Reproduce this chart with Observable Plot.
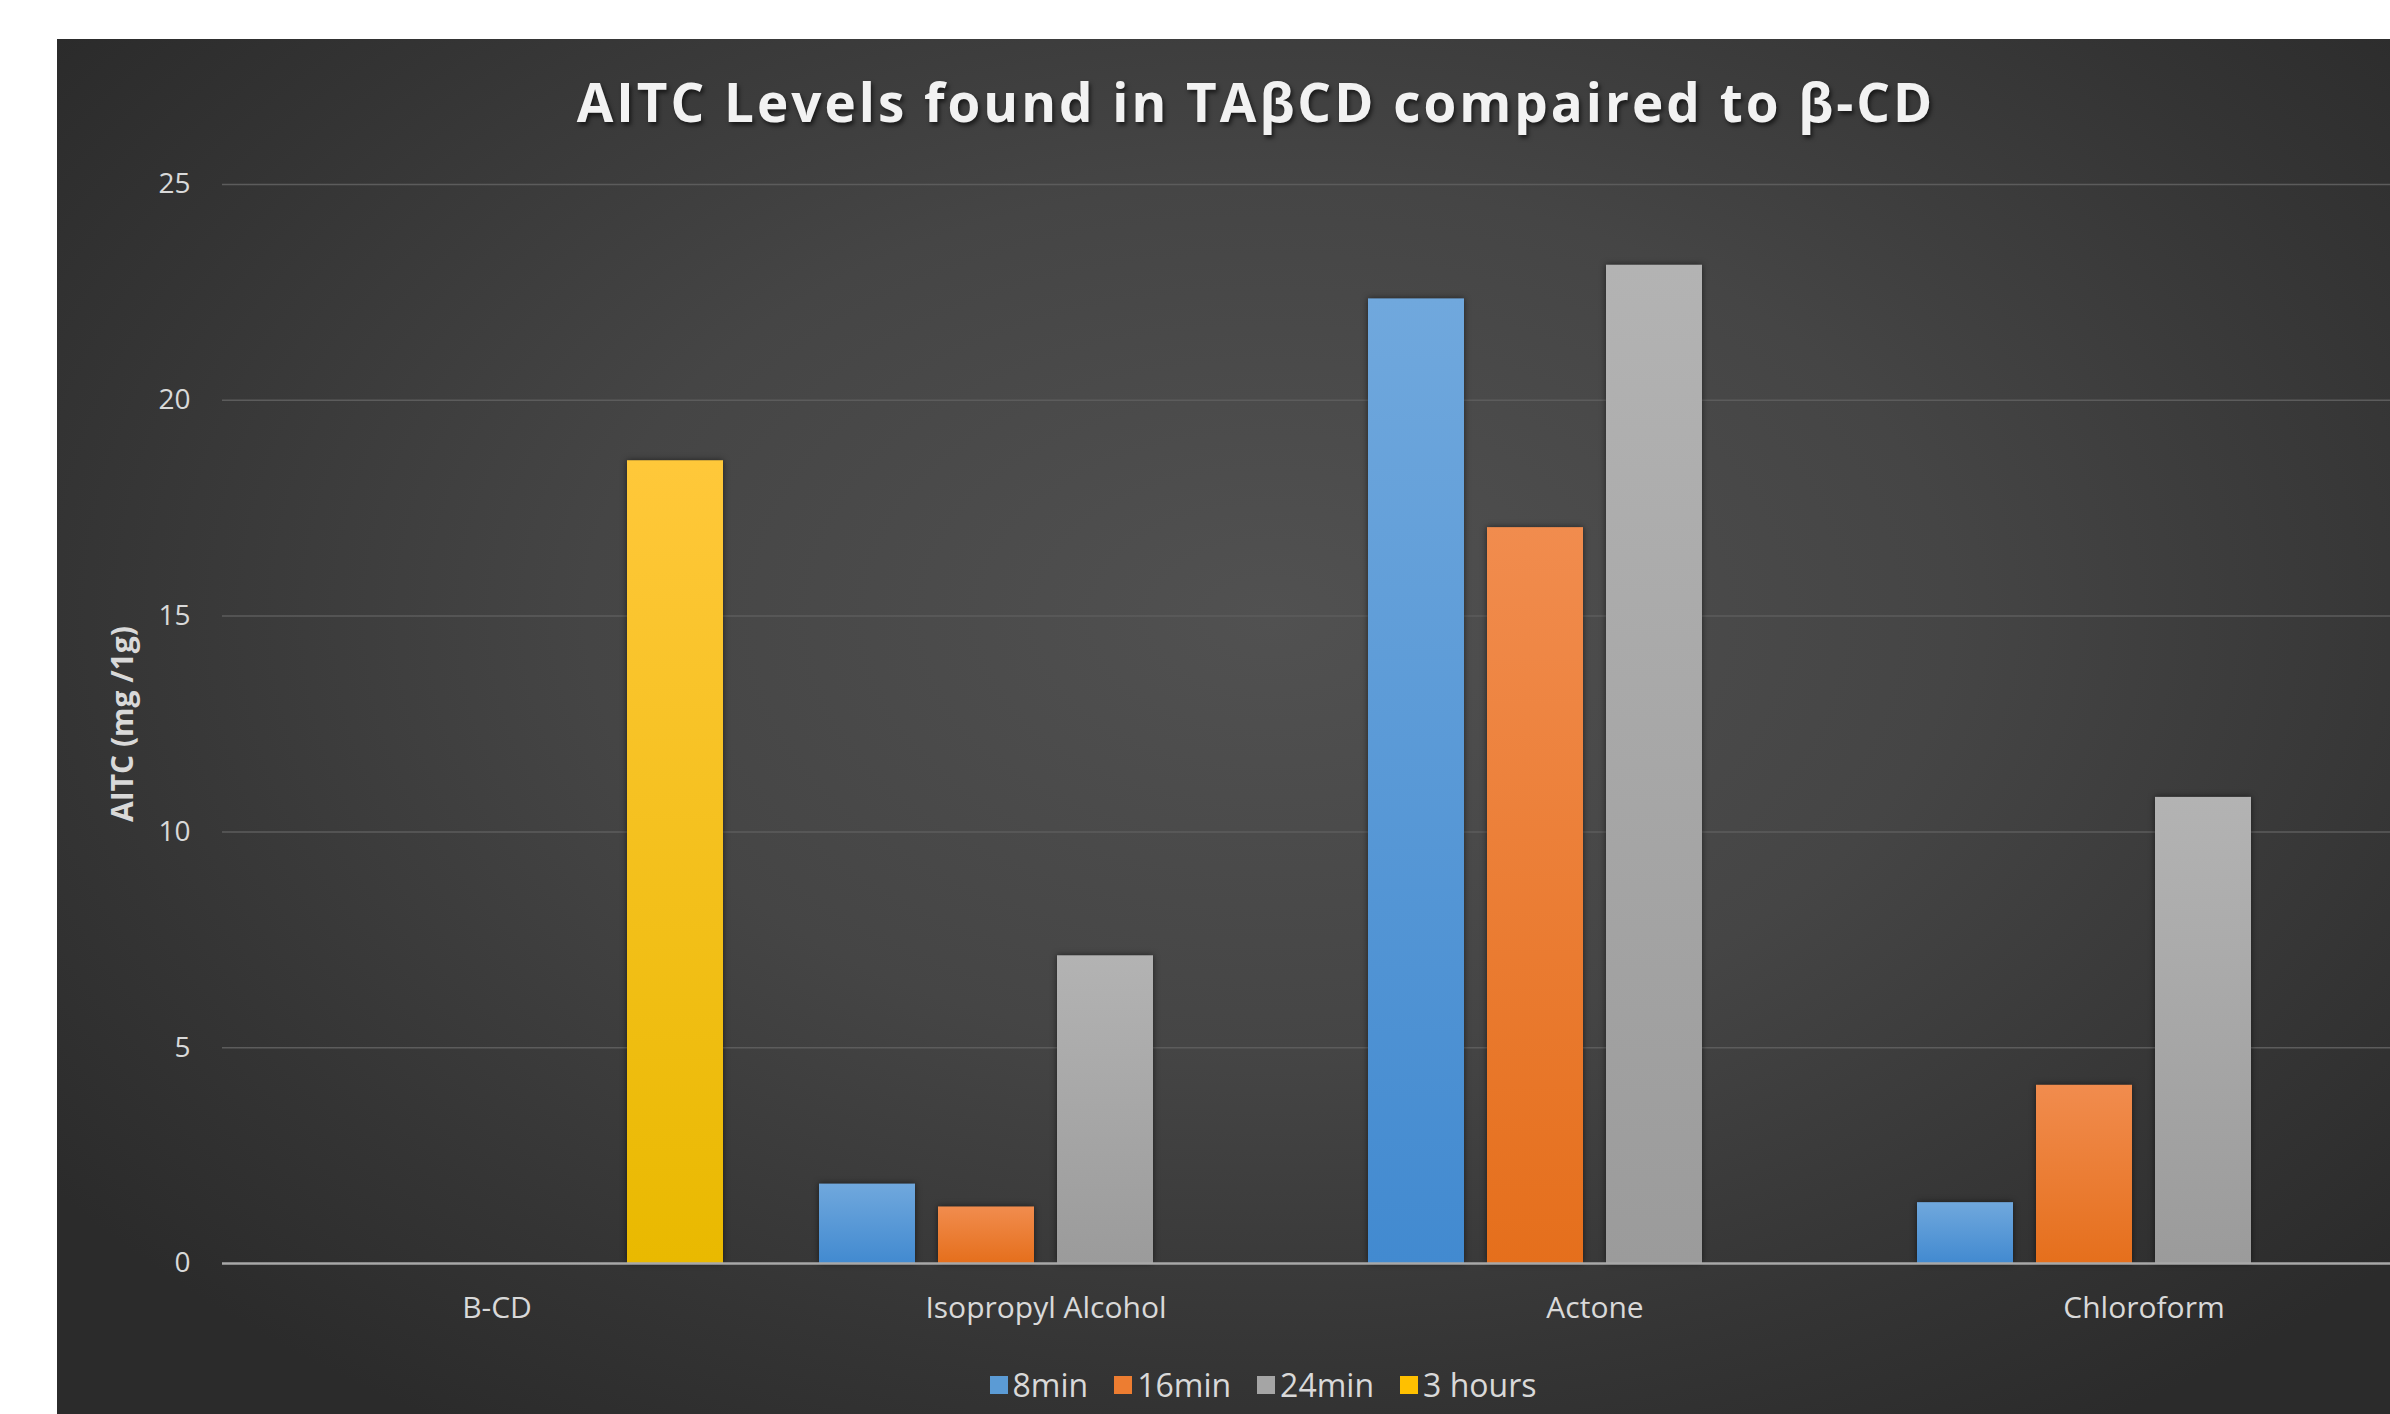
<!DOCTYPE html>
<html>
<head>
<meta charset="utf-8">
<script src="https://cdn.jsdelivr.net/npm/d3@7"></script>
<script src="https://cdn.jsdelivr.net/npm/@observablehq/plot@0.6"></script>
<style>
  html, body { margin: 0; padding: 0; background: #ffffff; overflow: hidden; width: 2390px; height: 1414px; }
  #panel {
    position: absolute; left: 57px; top: 39px; width: 2333px; height: 1375px; overflow: hidden;
    background: radial-gradient(ellipse 65% 70% at 52% 42%, #515151 0%, #454545 45%, #343434 80%, #2b2b2b 100%);
    font-family: "Open Sans", sans-serif;
  }
  #title {
    position: absolute; left: 0; width: 2398px; top: 30px; text-align: center;
    font-size: 53px; font-weight: 700; letter-spacing: 3px; color: #f2f2f2;
    text-shadow: 2px 3px 4px rgba(0,0,0,0.6);
    line-height: 66px;
  }
  #chart { position: absolute; left: 0; top: 0; width: 2362px; }
  #legend {
    position: absolute; left: 0; width: 2412px; top: 1325px; display: flex; justify-content: center; gap: 26px;
    font-size: 32px; color: #d9d9d9; line-height: 42px;
  }
  #legend .item { display: flex; align-items: center; gap: 5px; }
  #legend .sw { width: 18px; height: 18px; display: inline-block; }
</style>
</head>
<body>
<div id="panel">
  <div id="chart"></div>
  <div id="title">AITC Levels found in TAβCD compaired to β-CD</div>
  <div id="legend"></div>
</div>
<script>
const categories = ["B-CD", "Isopropyl Alcohol", "Actone", "Chloroform"];
const seriesNames = ["8min", "16min", "24min", "3 hours"];
const values8min  = [null, 1.84, 22.35, 1.41];
const values16min = [null, 1.31, 17.05, 4.13];
const values24min = [null, 7.13, 23.13, 10.8];
const values3h    = [18.6, null, null, null];
const yTicks = [0, 5, 10, 15, 20, 25];
const colorsTop    = ["#70a8dd", "#f18c4e", "#b3b3b3", "#ffc83a"];
const colorsBottom = ["#428ad0", "#e56f1c", "#9b9b9b", "#e9b900"];
const colorsMid    = ["#5b9bd5", "#ed7d31", "#a5a5a5", "#ffc000"];

const seriesValues = [values8min, values16min, values24min, values3h];
const data = [];
categories.forEach((c, i) => {
  seriesValues.forEach((vals, s) => {
    if (vals[i] != null) data.push({category: c, series: seriesNames[s], value: vals[i]});
  });
});

const textColor = "#d9d9d9";

const chart = Plot.plot({
  width: 2362,
  height: 1294,
  marginLeft: 164,
  marginRight: 0,
  marginTop: 145,
  marginBottom: 70,
  style: {background: "transparent", color: textColor, fontFamily: "Open Sans, sans-serif", overflow: "visible", maxWidth: "none"},
  fx: {domain: categories, padding: 0, label: null},
  x: {domain: seriesNames, paddingInner: 0.197, paddingOuter: 0.395, axis: null},
  y: {domain: [0, 25], label: null},
  color: {domain: seriesNames, range: colorsMid},
  marks: [
    Plot.gridY(yTicks.slice(1), {stroke: "#5c5c5c", strokeOpacity: 1, strokeWidth: 1.5}),
    Plot.barY(data, {fx: "category", x: "series", y: "value", fill: "series"}),
    Plot.ruleY([0], {stroke: "#a8a8a8", strokeWidth: 2.5}),
    Plot.axisY(yTicks, {tickSize: 0, tickPadding: 32, fontSize: 28, fill: textColor, label: null}),
    Plot.axisFx({anchor: "bottom", tickSize: 0, tickPadding: 33, fontSize: 30, fill: textColor, label: null}),
    Plot.text(["AITC (mg /1g)"], {frameAnchor: "left", dx: -99, rotate: -90, textAnchor: "middle", fontSize: 30, fontWeight: "bold", fill: textColor, facetAnchor: "left"})
  ]
});

// gradients for bars
const ns = "http://www.w3.org/2000/svg";
const defs = document.createElementNS(ns, "defs");
colorsMid.forEach((c, i) => {
  const g = document.createElementNS(ns, "linearGradient");
  g.setAttribute("id", "grad" + i);
  g.setAttribute("x1", "0"); g.setAttribute("y1", "0"); g.setAttribute("x2", "0"); g.setAttribute("y2", "1");
  const s1 = document.createElementNS(ns, "stop"); s1.setAttribute("offset", "0"); s1.setAttribute("stop-color", colorsTop[i]);
  const s2 = document.createElementNS(ns, "stop"); s2.setAttribute("offset", "1"); s2.setAttribute("stop-color", colorsBottom[i]);
  g.appendChild(s1); g.appendChild(s2); defs.appendChild(g);
});
chart.insertBefore(defs, chart.firstChild);
const norm = c => d3.color(c).formatHex();
const midHex = colorsMid.map(norm);
chart.querySelectorAll("rect").forEach(r => {
  const f = r.getAttribute("fill");
  if (!f) return;
  let hex; try { hex = norm(f); } catch (e) { return; }
  const idx = midHex.indexOf(hex);
  if (idx >= 0) {
    r.setAttribute("fill", `url(#grad${idx})`);
    r.style.filter = "drop-shadow(0px 0px 3px rgba(0,0,0,0.55))";
  }
});
document.getElementById("chart").appendChild(chart);

const legend = document.getElementById("legend");
seriesNames.forEach((s, i) => {
  const item = document.createElement("div"); item.className = "item";
  const sw = document.createElement("span"); sw.className = "sw"; sw.style.background = colorsMid[i];
  const t = document.createElement("span"); t.textContent = s;
  item.appendChild(sw); item.appendChild(t); legend.appendChild(item);
});
</script>
</body>
</html>
